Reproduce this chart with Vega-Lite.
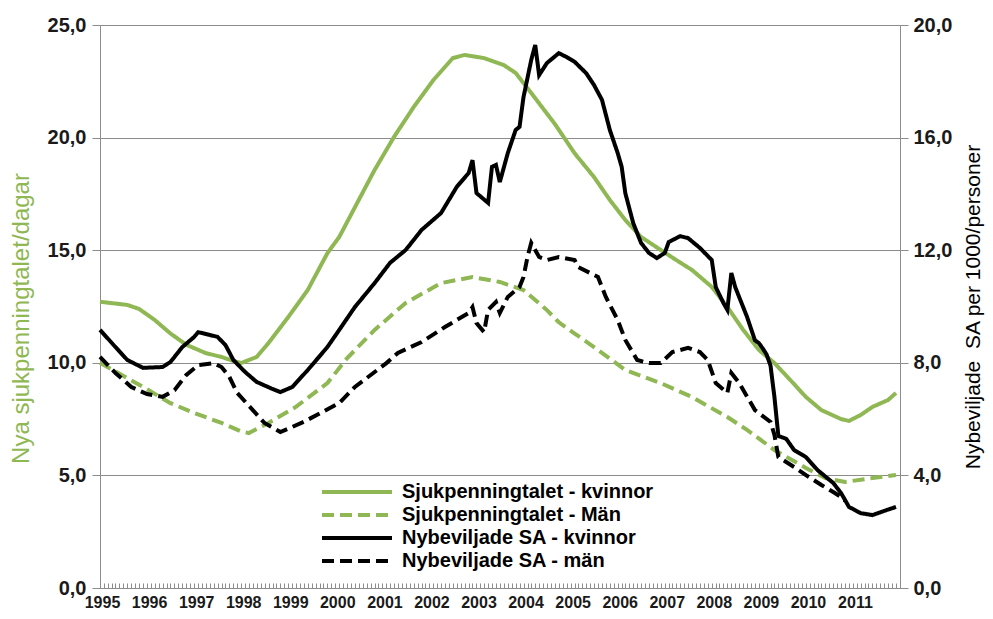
{
 "$schema": "https://vega.github.io/schema/vega-lite/v6.json",
 "width": 800,
 "height": 563,
 "autosize": {"type": "none"},
 "padding": {"left": 100, "top": 25, "right": 93, "bottom": 31},
 "background": "white",
 "config": {"view": {"stroke": null}, "font": "Liberation Sans"},
 "data": {"values": [
  {"d":"1995-01","s":"Sjukpenningtalet - kvinnor","v":12.71},
  {"d":"1995-08","s":"Sjukpenningtalet - kvinnor","v":12.57},
  {"d":"1995-11","s":"Sjukpenningtalet - kvinnor","v":12.39},
  {"d":"1996-03","s":"Sjukpenningtalet - kvinnor","v":11.9},
  {"d":"1996-07","s":"Sjukpenningtalet - kvinnor","v":11.3},
  {"d":"1996-11","s":"Sjukpenningtalet - kvinnor","v":10.8},
  {"d":"1997-04","s":"Sjukpenningtalet - kvinnor","v":10.43},
  {"d":"1997-08","s":"Sjukpenningtalet - kvinnor","v":10.26},
  {"d":"1997-11","s":"Sjukpenningtalet - kvinnor","v":10.08},
  {"d":"1998-01","s":"Sjukpenningtalet - kvinnor","v":9.99},
  {"d":"1998-05","s":"Sjukpenningtalet - kvinnor","v":10.26},
  {"d":"1998-08","s":"Sjukpenningtalet - kvinnor","v":10.88},
  {"d":"1999-01","s":"Sjukpenningtalet - kvinnor","v":12.03},
  {"d":"1999-06","s":"Sjukpenningtalet - kvinnor","v":13.23},
  {"d":"1999-11","s":"Sjukpenningtalet - kvinnor","v":14.87},
  {"d":"2000-02","s":"Sjukpenningtalet - kvinnor","v":15.59},
  {"d":"2000-11","s":"Sjukpenningtalet - kvinnor","v":18.56},
  {"d":"2001-04","s":"Sjukpenningtalet - kvinnor","v":20.03},
  {"d":"2001-09","s":"Sjukpenningtalet - kvinnor","v":21.36},
  {"d":"2002-02","s":"Sjukpenningtalet - kvinnor","v":22.56},
  {"d":"2002-07","s":"Sjukpenningtalet - kvinnor","v":23.53},
  {"d":"2002-10","s":"Sjukpenningtalet - kvinnor","v":23.67},
  {"d":"2003-03","s":"Sjukpenningtalet - kvinnor","v":23.53},
  {"d":"2003-08","s":"Sjukpenningtalet - kvinnor","v":23.22},
  {"d":"2003-11","s":"Sjukpenningtalet - kvinnor","v":22.87},
  {"d":"2004-03","s":"Sjukpenningtalet - kvinnor","v":21.98},
  {"d":"2004-09","s":"Sjukpenningtalet - kvinnor","v":20.6},
  {"d":"2005-02","s":"Sjukpenningtalet - kvinnor","v":19.3},
  {"d":"2005-07","s":"Sjukpenningtalet - kvinnor","v":18.25},
  {"d":"2005-11","s":"Sjukpenningtalet - kvinnor","v":17.23},
  {"d":"2006-03","s":"Sjukpenningtalet - kvinnor","v":16.34},
  {"d":"2006-07","s":"Sjukpenningtalet - kvinnor","v":15.59},
  {"d":"2006-12","s":"Sjukpenningtalet - kvinnor","v":15.01},
  {"d":"2007-04","s":"Sjukpenningtalet - kvinnor","v":14.56},
  {"d":"2007-08","s":"Sjukpenningtalet - kvinnor","v":14.12},
  {"d":"2008-01","s":"Sjukpenningtalet - kvinnor","v":13.37},
  {"d":"2008-05","s":"Sjukpenningtalet - kvinnor","v":12.48},
  {"d":"2008-09","s":"Sjukpenningtalet - kvinnor","v":11.46},
  {"d":"2009-01","s":"Sjukpenningtalet - kvinnor","v":10.57},
  {"d":"2009-05","s":"Sjukpenningtalet - kvinnor","v":9.99},
  {"d":"2009-09","s":"Sjukpenningtalet - kvinnor","v":9.24},
  {"d":"2010-01","s":"Sjukpenningtalet - kvinnor","v":8.48},
  {"d":"2010-05","s":"Sjukpenningtalet - kvinnor","v":7.9},
  {"d":"2010-10","s":"Sjukpenningtalet - kvinnor","v":7.5},
  {"d":"2010-12","s":"Sjukpenningtalet - kvinnor","v":7.42},
  {"d":"2011-03","s":"Sjukpenningtalet - kvinnor","v":7.68},
  {"d":"2011-06","s":"Sjukpenningtalet - kvinnor","v":8.04},
  {"d":"2011-10","s":"Sjukpenningtalet - kvinnor","v":8.35},
  {"d":"2011-12","s":"Sjukpenningtalet - kvinnor","v":8.66},

  {"d":"1995-01","s":"Sjukpenningtalet - Män","v":10.0},
  {"d":"1995-12","s":"Sjukpenningtalet - Män","v":8.93},
  {"d":"1996-07","s":"Sjukpenningtalet - Män","v":8.21},
  {"d":"1997-01","s":"Sjukpenningtalet - Män","v":7.77},
  {"d":"1997-08","s":"Sjukpenningtalet - Män","v":7.33},
  {"d":"1998-01","s":"Sjukpenningtalet - Män","v":6.95},
  {"d":"1998-03","s":"Sjukpenningtalet - Män","v":6.88},
  {"d":"1998-08","s":"Sjukpenningtalet - Män","v":7.33},
  {"d":"1999-03","s":"Sjukpenningtalet - Män","v":8.04},
  {"d":"1999-11","s":"Sjukpenningtalet - Män","v":9.1},
  {"d":"2000-04","s":"Sjukpenningtalet - Män","v":10.2},
  {"d":"2000-11","s":"Sjukpenningtalet - Män","v":11.46},
  {"d":"2001-07","s":"Sjukpenningtalet - Män","v":12.66},
  {"d":"2002-04","s":"Sjukpenningtalet - Män","v":13.54},
  {"d":"2002-12","s":"Sjukpenningtalet - Män","v":13.81},
  {"d":"2003-07","s":"Sjukpenningtalet - Män","v":13.59},
  {"d":"2004-01","s":"Sjukpenningtalet - Män","v":13.23},
  {"d":"2004-07","s":"Sjukpenningtalet - Män","v":12.34},
  {"d":"2004-10","s":"Sjukpenningtalet - Män","v":11.8},
  {"d":"2005-02","s":"Sjukpenningtalet - Män","v":11.3},
  {"d":"2005-07","s":"Sjukpenningtalet - Män","v":10.7},
  {"d":"2006-03","s":"Sjukpenningtalet - Män","v":9.68},
  {"d":"2006-12","s":"Sjukpenningtalet - Män","v":9.1},
  {"d":"2007-08","s":"Sjukpenningtalet - Män","v":8.48},
  {"d":"2008-05","s":"Sjukpenningtalet - Män","v":7.59},
  {"d":"2008-10","s":"Sjukpenningtalet - Män","v":7.02},
  {"d":"2009-05","s":"Sjukpenningtalet - Män","v":6.13},
  {"d":"2010-01","s":"Sjukpenningtalet - Män","v":5.33},
  {"d":"2010-06","s":"Sjukpenningtalet - Män","v":4.88},
  {"d":"2010-11","s":"Sjukpenningtalet - Män","v":4.71},
  {"d":"2011-06","s":"Sjukpenningtalet - Män","v":4.88},
  {"d":"2011-12","s":"Sjukpenningtalet - Män","v":5.02},

  {"d":"1995-01","s":"Nybeviljade SA - kvinnor","v":9.17},
  {"d":"1995-05","s":"Nybeviljade SA - kvinnor","v":8.56},
  {"d":"1995-08","s":"Nybeviljade SA - kvinnor","v":8.1},
  {"d":"1995-12","s":"Nybeviljade SA - kvinnor","v":7.82},
  {"d":"1996-05","s":"Nybeviljade SA - kvinnor","v":7.85},
  {"d":"1996-07","s":"Nybeviljade SA - kvinnor","v":8.03},
  {"d":"1996-10","s":"Nybeviljade SA - kvinnor","v":8.56},
  {"d":"1997-01","s":"Nybeviljade SA - kvinnor","v":8.92},
  {"d":"1997-02","s":"Nybeviljade SA - kvinnor","v":9.09},
  {"d":"1997-05","s":"Nybeviljade SA - kvinnor","v":8.99},
  {"d":"1997-07","s":"Nybeviljade SA - kvinnor","v":8.92},
  {"d":"1997-09","s":"Nybeviljade SA - kvinnor","v":8.63},
  {"d":"1997-11","s":"Nybeviljade SA - kvinnor","v":8.1},
  {"d":"1998-02","s":"Nybeviljade SA - kvinnor","v":7.67},
  {"d":"1998-05","s":"Nybeviljade SA - kvinnor","v":7.32},
  {"d":"1998-09","s":"Nybeviljade SA - kvinnor","v":7.07},
  {"d":"1998-11","s":"Nybeviljade SA - kvinnor","v":6.96},
  {"d":"1999-02","s":"Nybeviljade SA - kvinnor","v":7.14},
  {"d":"1999-06","s":"Nybeviljade SA - kvinnor","v":7.74},
  {"d":"1999-11","s":"Nybeviljade SA - kvinnor","v":8.56},
  {"d":"2000-02","s":"Nybeviljade SA - kvinnor","v":9.17},
  {"d":"2000-06","s":"Nybeviljade SA - kvinnor","v":9.98},
  {"d":"2000-11","s":"Nybeviljade SA - kvinnor","v":10.83},
  {"d":"2001-03","s":"Nybeviljade SA - kvinnor","v":11.55},
  {"d":"2001-07","s":"Nybeviljade SA - kvinnor","v":12.01},
  {"d":"2001-11","s":"Nybeviljade SA - kvinnor","v":12.72},
  {"d":"2002-04","s":"Nybeviljade SA - kvinnor","v":13.32},
  {"d":"2002-08","s":"Nybeviljade SA - kvinnor","v":14.25},
  {"d":"2002-11","s":"Nybeviljade SA - kvinnor","v":14.74},
  {"d":"2002-12","s":"Nybeviljade SA - kvinnor","v":15.2},
  {"d":"2003-01","s":"Nybeviljade SA - kvinnor","v":14.03},
  {"d":"2003-04","s":"Nybeviljade SA - kvinnor","v":13.68},
  {"d":"2003-05","s":"Nybeviljade SA - kvinnor","v":14.96},
  {"d":"2003-06","s":"Nybeviljade SA - kvinnor","v":15.03},
  {"d":"2003-07","s":"Nybeviljade SA - kvinnor","v":14.42},
  {"d":"2003-09","s":"Nybeviljade SA - kvinnor","v":15.45},
  {"d":"2003-11","s":"Nybeviljade SA - kvinnor","v":16.27},
  {"d":"2003-12","s":"Nybeviljade SA - kvinnor","v":16.38},
  {"d":"2004-01","s":"Nybeviljade SA - kvinnor","v":17.44},
  {"d":"2004-03","s":"Nybeviljade SA - kvinnor","v":18.76},
  {"d":"2004-04","s":"Nybeviljade SA - kvinnor","v":19.29},
  {"d":"2004-05","s":"Nybeviljade SA - kvinnor","v":18.22},
  {"d":"2004-07","s":"Nybeviljade SA - kvinnor","v":18.65},
  {"d":"2004-10","s":"Nybeviljade SA - kvinnor","v":19.0},
  {"d":"2004-12","s":"Nybeviljade SA - kvinnor","v":18.86},
  {"d":"2005-02","s":"Nybeviljade SA - kvinnor","v":18.69},
  {"d":"2005-05","s":"Nybeviljade SA - kvinnor","v":18.29},
  {"d":"2005-07","s":"Nybeviljade SA - kvinnor","v":17.87},
  {"d":"2005-09","s":"Nybeviljade SA - kvinnor","v":17.34},
  {"d":"2005-11","s":"Nybeviljade SA - kvinnor","v":16.27},
  {"d":"2006-01","s":"Nybeviljade SA - kvinnor","v":15.45},
  {"d":"2006-02","s":"Nybeviljade SA - kvinnor","v":14.96},
  {"d":"2006-03","s":"Nybeviljade SA - kvinnor","v":14.03},
  {"d":"2006-05","s":"Nybeviljade SA - kvinnor","v":12.97},
  {"d":"2006-07","s":"Nybeviljade SA - kvinnor","v":12.26},
  {"d":"2006-09","s":"Nybeviljade SA - kvinnor","v":11.9},
  {"d":"2006-11","s":"Nybeviljade SA - kvinnor","v":11.72},
  {"d":"2007-01","s":"Nybeviljade SA - kvinnor","v":11.9},
  {"d":"2007-02","s":"Nybeviljade SA - kvinnor","v":12.29},
  {"d":"2007-05","s":"Nybeviljade SA - kvinnor","v":12.5},
  {"d":"2007-07","s":"Nybeviljade SA - kvinnor","v":12.43},
  {"d":"2007-10","s":"Nybeviljade SA - kvinnor","v":12.08},
  {"d":"2008-01","s":"Nybeviljade SA - kvinnor","v":11.65},
  {"d":"2008-02","s":"Nybeviljade SA - kvinnor","v":10.69},
  {"d":"2008-04","s":"Nybeviljade SA - kvinnor","v":10.12},
  {"d":"2008-05","s":"Nybeviljade SA - kvinnor","v":9.88},
  {"d":"2008-06","s":"Nybeviljade SA - kvinnor","v":11.19},
  {"d":"2008-07","s":"Nybeviljade SA - kvinnor","v":10.69},
  {"d":"2008-10","s":"Nybeviljade SA - kvinnor","v":9.63},
  {"d":"2008-12","s":"Nybeviljade SA - kvinnor","v":8.8},
  {"d":"2009-01","s":"Nybeviljade SA - kvinnor","v":8.7},
  {"d":"2009-02","s":"Nybeviljade SA - kvinnor","v":8.5},
  {"d":"2009-03","s":"Nybeviljade SA - kvinnor","v":8.3},
  {"d":"2009-04","s":"Nybeviljade SA - kvinnor","v":7.9},
  {"d":"2009-05","s":"Nybeviljade SA - kvinnor","v":6.8},
  {"d":"2009-06","s":"Nybeviljade SA - kvinnor","v":5.4},
  {"d":"2009-07","s":"Nybeviljade SA - kvinnor","v":5.35},
  {"d":"2009-08","s":"Nybeviljade SA - kvinnor","v":5.3},
  {"d":"2009-10","s":"Nybeviljade SA - kvinnor","v":4.9},
  {"d":"2010-01","s":"Nybeviljade SA - kvinnor","v":4.65},
  {"d":"2010-04","s":"Nybeviljade SA - kvinnor","v":4.19},
  {"d":"2010-08","s":"Nybeviljade SA - kvinnor","v":3.73},
  {"d":"2010-10","s":"Nybeviljade SA - kvinnor","v":3.37},
  {"d":"2010-12","s":"Nybeviljade SA - kvinnor","v":2.88},
  {"d":"2011-03","s":"Nybeviljade SA - kvinnor","v":2.66},
  {"d":"2011-06","s":"Nybeviljade SA - kvinnor","v":2.59},
  {"d":"2011-09","s":"Nybeviljade SA - kvinnor","v":2.74},
  {"d":"2011-12","s":"Nybeviljade SA - kvinnor","v":2.88},

  {"d":"1995-01","s":"Nybeviljade SA - män","v":8.21},
  {"d":"1995-05","s":"Nybeviljade SA - män","v":7.64},
  {"d":"1995-09","s":"Nybeviljade SA - män","v":7.14},
  {"d":"1996-01","s":"Nybeviljade SA - män","v":6.89},
  {"d":"1996-05","s":"Nybeviljade SA - män","v":6.79},
  {"d":"1996-08","s":"Nybeviljade SA - män","v":7.03},
  {"d":"1996-11","s":"Nybeviljade SA - män","v":7.57},
  {"d":"1997-02","s":"Nybeviljade SA - män","v":7.92},
  {"d":"1997-06","s":"Nybeviljade SA - män","v":7.99},
  {"d":"1997-08","s":"Nybeviljade SA - män","v":7.85},
  {"d":"1997-10","s":"Nybeviljade SA - män","v":7.5},
  {"d":"1997-12","s":"Nybeviljade SA - män","v":6.93},
  {"d":"1998-04","s":"Nybeviljade SA - män","v":6.32},
  {"d":"1998-07","s":"Nybeviljade SA - män","v":5.86},
  {"d":"1998-11","s":"Nybeviljade SA - män","v":5.54},
  {"d":"1999-05","s":"Nybeviljade SA - män","v":5.9},
  {"d":"2000-02","s":"Nybeviljade SA - män","v":6.57},
  {"d":"2000-06","s":"Nybeviljade SA - män","v":7.14},
  {"d":"2001-02","s":"Nybeviljade SA - män","v":7.99},
  {"d":"2001-05","s":"Nybeviljade SA - män","v":8.35},
  {"d":"2001-11","s":"Nybeviljade SA - män","v":8.74},
  {"d":"2002-05","s":"Nybeviljade SA - män","v":9.27},
  {"d":"2002-11","s":"Nybeviljade SA - män","v":9.77},
  {"d":"2002-12","s":"Nybeviljade SA - män","v":9.98},
  {"d":"2003-01","s":"Nybeviljade SA - män","v":9.41},
  {"d":"2003-03","s":"Nybeviljade SA - män","v":9.09},
  {"d":"2003-04","s":"Nybeviljade SA - män","v":9.88},
  {"d":"2003-06","s":"Nybeviljade SA - män","v":10.16},
  {"d":"2003-07","s":"Nybeviljade SA - män","v":9.77},
  {"d":"2003-09","s":"Nybeviljade SA - män","v":10.34},
  {"d":"2003-12","s":"Nybeviljade SA - män","v":10.69},
  {"d":"2004-01","s":"Nybeviljade SA - män","v":11.05},
  {"d":"2004-02","s":"Nybeviljade SA - män","v":11.76},
  {"d":"2004-03","s":"Nybeviljade SA - män","v":12.26},
  {"d":"2004-05","s":"Nybeviljade SA - män","v":11.76},
  {"d":"2004-07","s":"Nybeviljade SA - män","v":11.65},
  {"d":"2004-10","s":"Nybeviljade SA - män","v":11.76},
  {"d":"2005-02","s":"Nybeviljade SA - män","v":11.65},
  {"d":"2005-03","s":"Nybeviljade SA - män","v":11.4},
  {"d":"2005-08","s":"Nybeviljade SA - män","v":11.05},
  {"d":"2005-10","s":"Nybeviljade SA - män","v":10.34},
  {"d":"2006-01","s":"Nybeviljade SA - män","v":9.52},
  {"d":"2006-03","s":"Nybeviljade SA - män","v":8.81},
  {"d":"2006-06","s":"Nybeviljade SA - män","v":8.1},
  {"d":"2006-09","s":"Nybeviljade SA - män","v":7.99},
  {"d":"2006-12","s":"Nybeviljade SA - män","v":7.99},
  {"d":"2007-03","s":"Nybeviljade SA - män","v":8.38},
  {"d":"2007-07","s":"Nybeviljade SA - män","v":8.53},
  {"d":"2007-10","s":"Nybeviljade SA - män","v":8.38},
  {"d":"2007-12","s":"Nybeviljade SA - män","v":8.1},
  {"d":"2008-02","s":"Nybeviljade SA - män","v":7.28},
  {"d":"2008-05","s":"Nybeviljade SA - män","v":6.93},
  {"d":"2008-06","s":"Nybeviljade SA - män","v":7.64},
  {"d":"2008-08","s":"Nybeviljade SA - män","v":7.28},
  {"d":"2008-12","s":"Nybeviljade SA - män","v":6.32},
  {"d":"2009-04","s":"Nybeviljade SA - män","v":5.9},
  {"d":"2009-05","s":"Nybeviljade SA - män","v":5.45},
  {"d":"2009-06","s":"Nybeviljade SA - män","v":4.65},
  {"d":"2009-10","s":"Nybeviljade SA - män","v":4.3},
  {"d":"2010-01","s":"Nybeviljade SA - män","v":4.01},
  {"d":"2010-05","s":"Nybeviljade SA - män","v":3.66},
  {"d":"2010-08","s":"Nybeviljade SA - män","v":3.41},
  {"d":"2010-10","s":"Nybeviljade SA - män","v":3.23},
  {"d":"2010-11","s":"Nybeviljade SA - män","v":3.1}
 ]},
 "encoding": {
  "x": {
   "field": "d", "type": "temporal",
   "scale": {"type": "utc", "domain": [{"year": 1995, "month": 1, "date": 1, "utc": true}, {"year": 2012, "month": 1, "date": 1, "utc": true}]},
   "axis": {
    "title": null,
    "tickCount": {"interval": "month", "step": 1},
    "labelExpr": "utcmonth(datum.value) == 0 && utcyear(datum.value) < 2012 ? utcFormat(datum.value, '%Y') : ''",
    "labelOverlap": false, "labelFlush": false, "labelBound": false,
    "tickSize": -5, "tickColor": "#8c8c8c", "tickWidth": 1,
    "domainColor": "#8c8c8c", "domainWidth": 1, "grid": false,
    "labelFont": "Liberation Sans", "labelFontSize": 16, "labelFontWeight": "bold",
    "labelColor": "#1a1a1a", "labelPadding": 11, "labelOffset": 2
   }
  },
  "color": {
   "field": "s", "type": "nominal",
   "scale": {"domain": ["Sjukpenningtalet - kvinnor", "Sjukpenningtalet - Män", "Nybeviljade SA - kvinnor", "Nybeviljade SA - män"],
             "range": ["#8fb753", "#8fb753", "#000000", "#000000"]},
   "legend": {"orient": "none", "legendX": 247, "legendY": 457, "title": null,
              "symbolType": "M-7,0H7", "symbolSize": 100, "symbolStrokeWidth": 4,
              "labelFont": "Liberation Sans", "labelFontSize": 20, "labelFontWeight": "bold", "labelColor": "#000000",
              "labelOffset": 35, "rowPadding": 3, "padding": 0, "labelLimit": 400}
  },
  "strokeDash": {
   "field": "s", "type": "nominal",
   "scale": {"domain": ["Sjukpenningtalet - kvinnor", "Sjukpenningtalet - Män", "Nybeviljade SA - kvinnor", "Nybeviljade SA - män"],
             "range": [[1, 0], [12, 6], [1, 0], [12, 6]]},
   "legend": {"orient": "none", "legendX": 247, "legendY": 457, "title": null,
              "symbolType": "M-7,0H7", "symbolSize": 100, "symbolStrokeWidth": 4,
              "labelFont": "Liberation Sans", "labelFontSize": 20, "labelFontWeight": "bold", "labelColor": "#000000",
              "labelOffset": 35, "rowPadding": 3, "padding": 0, "labelLimit": 400}
  }
 },
 "layer": [
  {
   "transform": [{"filter": "indexof(datum.s, 'Sjuk') == 0"}],
   "mark": {"type": "line", "strokeWidth": 4},
   "encoding": {
    "y": {
     "field": "v", "type": "quantitative",
     "scale": {"domain": [0, 25], "nice": false},
     "axis": {
      "orient": "left",
      "title": "Nya sjukpenningtalet/dagar", "titleColor": "#8fb753", "titleFontSize": 24,
      "titleFontWeight": "normal", "titleFont": "Liberation Sans", "titlePadding": 14, "titleY": 293,
      "values": [0, 5, 10, 15, 20, 25],
      "labelExpr": "replace(format(datum.value, '.1f'), '.', ',')",
      "labelFont": "Liberation Sans", "labelFontSize": 20, "labelFontWeight": "bold", "labelColor": "#1a1a1a",
      "labelPadding": 6, "tickSize": 8, "tickColor": "#8c8c8c", "domainColor": "#8c8c8c",
      "grid": true, "gridColor": "#8c8c8c", "gridWidth": 1
     }
    }
   }
  },
  {
   "transform": [{"filter": "indexof(datum.s, 'Nyb') == 0"}],
   "mark": {"type": "line", "strokeWidth": 4},
   "encoding": {
    "y": {
     "field": "v", "type": "quantitative",
     "scale": {"domain": [0, 20], "nice": false},
     "axis": {
      "orient": "right",
      "title": "Nybeviljade\u00a0 SA per 1000/personer", "titleColor": "#000000", "titleFontSize": 21,
      "titleFontWeight": "normal", "titleFont": "Liberation Sans", "titlePadding": 11,
      "titleAngle": -90, "titleBaseline": "top",
      "values": [0, 4, 8, 12, 16, 20],
      "labelExpr": "replace(format(datum.value, '.1f'), '.', ',')",
      "labelFont": "Liberation Sans", "labelFontSize": 20, "labelFontWeight": "bold", "labelColor": "#1a1a1a",
      "labelPadding": 5, "tickSize": 8, "tickColor": "#8c8c8c", "domainColor": "#8c8c8c",
      "grid": false
     }
    }
   }
  }
 ],
 "resolve": {"scale": {"y": "independent"}}
}
